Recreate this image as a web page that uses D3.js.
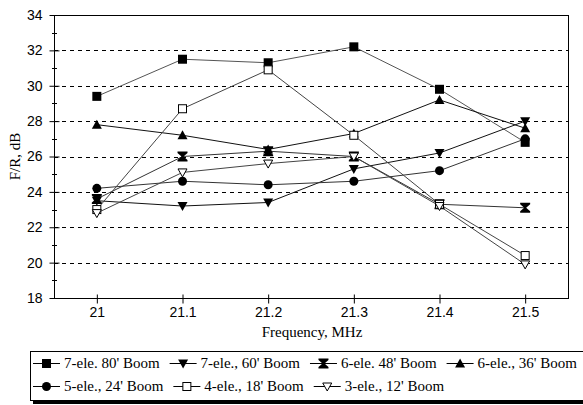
<!DOCTYPE html>
<html><head><meta charset="utf-8">
<script src="https://cdn.jsdelivr.net/npm/d3@7"></script>
<style>body{margin:0;background:#fff}svg{display:block}
.serif{font-family:"Liberation Serif","Times New Roman",Times,serif;font-size:15px}
.sans{font-family:"Liberation Sans",Arial,sans-serif;font-size:14px}
</style>
</head><body><svg id="c" width="583" height="405"></svg>
<script>
const categories = ["21","21.1","21.2","21.3","21.4","21.5"];
const yTicks = [18,20,22,24,26,28,30,32,34];
const seriesNames = ["7-ele. 80' Boom","7-ele., 60' Boom","6-ele. 48' Boom","6-ele., 36' Boom","5-ele., 24' Boom","4-ele., 18' Boom","3-ele., 12' Boom"];
const s80 = [29.4,31.5,31.3,32.2,29.8,26.8];
const s60 = [23.5,23.2,23.4,25.3,26.2,28.0];
const s48 = [23.6,26.0,26.3,26.0,23.3,23.1];
const s36 = [27.8,27.2,26.4,27.3,29.2,27.6];
const s24 = [24.2,24.6,24.4,24.6,25.2,27.0];
const s18 = [23.0,28.7,30.9,27.2,23.3,20.4];
const s12 = [22.8,25.1,25.6,26.0,23.2,19.9];
const markers = ["sq","tdown","hour","tup","circ","osq","otdown"];
const seriesValues = [s80,s60,s48,s36,s24,s18,s12];

const svg = d3.select("#c");
const L=54, T=15, W=514, H=283;
const x = d3.scalePoint().domain(categories).range([L,L+W]).padding(0.5);
const y = d3.scaleLinear().domain([18,34]).range([T+H,T]);

// grid
svg.append("g").selectAll("line").data(yTicks.filter(v=>v>18&&v<34)).join("line")
  .attr("x1",L).attr("x2",L+W).attr("y1",d=>Math.round(y(d))+0.5).attr("y2",d=>Math.round(y(d))+0.5)
  .attr("stroke","#000").attr("stroke-dasharray","4,4").attr("stroke-width",1);

// frame
svg.append("rect").attr("x",L+0.5).attr("y",T+0.5).attr("width",W).attr("height",H)
  .attr("fill","none").attr("stroke","#000");

// y axis
const ya = svg.append("g").attr("transform",`translate(${L+0.5},0)`)
  .call(d3.axisLeft(y).tickValues(yTicks).tickSize(5).tickSizeOuter(0).tickPadding(7));
ya.select(".domain").remove();
ya.selectAll(".tick line").attr("x2",-5).attr("x1",5);
ya.selectAll("text").attr("class","sans").attr("fill","#000");
ya.attr("font-family",null).attr("font-size",null);
// minor
svg.append("g").selectAll("line").data(d3.range(19,34,2)).join("line")
  .attr("x1",L-2).attr("x2",L+3).attr("y1",d=>Math.round(y(d))+0.5).attr("y2",d=>Math.round(y(d))+0.5).attr("stroke","#000");

// x axis
const xa = svg.append("g").attr("transform",`translate(0,${T+H+0.5})`)
  .call(d3.axisBottom(x).tickSize(5).tickSizeOuter(0).tickPadding(4));
xa.select(".domain").remove();
xa.selectAll(".tick line").attr("y1",-4).attr("y2",5);
xa.selectAll("text").attr("class","sans").attr("fill","#000");
xa.attr("font-family",null).attr("font-size",null);

svg.append("text").attr("class","serif").attr("x",312).attr("y",337).attr("text-anchor","middle")
  .text("Frequency, MHz");
svg.append("text").attr("class","serif").attr("transform",`translate(20,${T+H/2}) rotate(-90)`).attr("text-anchor","middle")
  .text("F/R, dB");

function drawMarker(g, type, cx, cy){
  const s=4.5;
  if(type==="sq") g.append("rect").attr("x",cx-s).attr("y",cy-s).attr("width",2*s).attr("height",2*s).attr("fill","#000");
  else if(type==="osq") g.append("rect").attr("x",cx-s+0.5).attr("y",cy-s+0.5).attr("width",2*s-1).attr("height",2*s-1).attr("fill","#fff").attr("stroke","#000");
  else if(type==="circ") g.append("circle").attr("cx",cx).attr("cy",cy).attr("r",4.5).attr("fill","#000");
  else if(type==="tdown") g.append("path").attr("d",`M${cx-5},${cy-4}L${cx+5},${cy-4}L${cx},${cy+5}Z`).attr("fill","#000");
  else if(type==="otdown") g.append("path").attr("d",`M${cx-4.5},${cy-3.5}L${cx+4.5},${cy-3.5}L${cx},${cy+4.5}Z`).attr("fill","#fff").attr("stroke","#000");
  else if(type==="tup") g.append("path").attr("d",`M${cx-5},${cy+4}L${cx+5},${cy+4}L${cx},${cy-5}Z`).attr("fill","#000");
  else if(type==="hour") g.append("path").attr("d",`M${cx-5},${cy-5}L${cx+5},${cy-5}L${cx+5},${cy-3.5}L${cx+1},${cy}L${cx+5},${cy+3.5}L${cx+5},${cy+5}L${cx-5},${cy+5}L${cx-5},${cy+3.5}L${cx-1},${cy}L${cx-5},${cy-3.5}Z`).attr("fill","#000");
}

const line = d3.line().x((d,i)=>x(categories[i])).y(d=>y(d));
const lineColors = ["#555","#111","#333","#111","#333","#444","#444"];
seriesValues.forEach((vals,k)=>{
  svg.append("path").attr("d",line(vals)).attr("fill","none").attr("stroke",lineColors[k]).attr("stroke-width",1);
});
seriesValues.forEach((vals,k)=>{
  const g = svg.append("g");
  vals.forEach((v,i)=>drawMarker(g, markers[k], x(categories[i]), y(v)));
});

// legend
const lg = svg.append("g");
lg.append("rect").attr("x",33).attr("y",354).attr("width",560).attr("height",50).attr("fill","#000");
lg.append("rect").attr("x",30.5).attr("y",351.5).attr("width",560).attr("height",49).attr("fill","#fff").attr("stroke","#000");
const rows = [[0,1,2,3],[4,5,6]];
const rowY = [363.5,386.5];
rows.forEach((r,ri)=>{
  let cx = 33;
  r.forEach(k=>{
    const ly = rowY[ri];
    lg.append("line").attr("x1",cx).attr("x2",cx+27).attr("y1",ly).attr("y2",ly).attr("stroke","#000");
    drawMarker(lg, markers[k], cx+13.5, ly);
    const t = lg.append("text").attr("class","serif").attr("x",cx+31).attr("y",ly+4.5).text(seriesNames[k]);
    cx = cx + 31 + t.node().getComputedTextLength() + 10;
  });
});
</script></body></html>
